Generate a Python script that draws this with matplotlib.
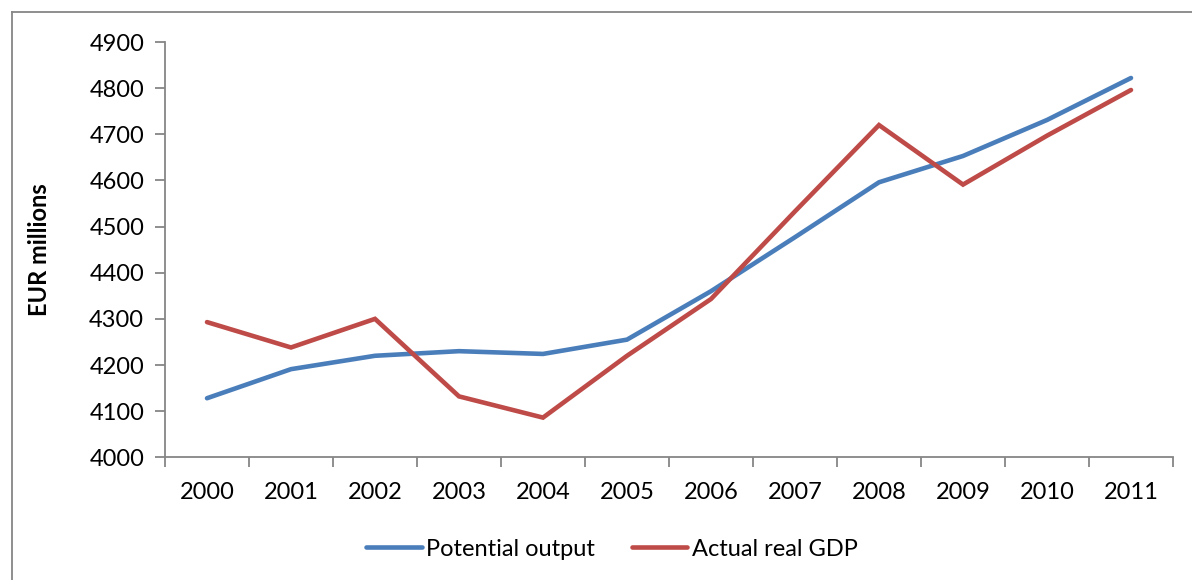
import matplotlib
matplotlib.use("Agg")
import matplotlib.pyplot as plt
from matplotlib.lines import Line2D

years = ["2000", "2001", "2002", "2003", "2004", "2005",
         "2006", "2007", "2008", "2009", "2010", "2011"]
potential_output = [4128, 4191, 4220, 4230, 4224, 4255,
                    4360, 4477, 4596, 4653, 4731, 4822]
actual_real_gdp = [4293, 4238, 4300, 4132, 4086, 4220,
                   4343, 4533, 4720, 4591, 4697, 4796]
y_ticks = [4000, 4100, 4200, 4300, 4400, 4500, 4600, 4700, 4800, 4900]

plt.rcParams['font.family'] = ['Lato', 'DejaVu Sans']

W, H = 1192, 580
fig = plt.figure(figsize=(W / 100, H / 100), dpi=100)
ax = fig.add_axes([165 / W, 1 - 457.3 / H, (1173 - 165) / W, (457.3 - 42) / H])

gray = '#868686'
blue = '#4A7EBB'
red = '#BE4B48'
fs = 17

x = list(range(len(years)))
ax.plot(x, potential_output, color=blue, lw=3.3, solid_capstyle='round',
        solid_joinstyle='miter', label='Potential output')
ax.plot(x, actual_real_gdp, color=red, lw=3.3, solid_capstyle='round',
        solid_joinstyle='miter', label='Actual real GDP')

ax.set_xlim(-0.5, len(years) - 0.5)
ax.set_ylim(y_ticks[0], y_ticks[-1])
ax.set_yticks(y_ticks)
ax.set_yticklabels([str(v) for v in y_ticks])

# category boundaries as major ticks, labels at centres
ax.set_xticks([i - 0.5 for i in range(len(years) + 1)])
ax.set_xticklabels([])
ax.set_xticks(x, minor=True)
ax.set_xticklabels(years, minor=True)
ax.tick_params(axis='x', which='major', length=7, width=1.3, color=gray, direction='out')
ax.tick_params(axis='x', which='minor', length=0, pad=18, labelsize=fs)
ax.tick_params(axis='y', length=7, width=1.3, color=gray, direction='out', pad=8, labelsize=fs)

for s in ['top', 'right']:
    ax.spines[s].set_visible(False)
for s in ['left', 'bottom']:
    ax.spines[s].set_color(gray)
    ax.spines[s].set_linewidth(1.3)

ax.set_ylabel('EUR millions', fontsize=fs, fontweight='bold')
ax.yaxis.set_label_coords(-0.113, 0.5, transform=ax.transAxes)

handles = [Line2D([], [], color=blue, lw=3.3, solid_capstyle='round'),
           Line2D([], [], color=red, lw=3.3, solid_capstyle='round')]
fig.legend(handles, ['Potential output', 'Actual real GDP'],
           loc='center', bbox_to_anchor=(612 / W, 1 - 549 / H),
           ncol=2, frameon=False, fontsize=fs, handlelength=2.35,
           handletextpad=0.2, columnspacing=1.55)

# outer chart border (extends beyond the image on right and bottom)
fig.add_artist(Line2D([12 / W, 1.0], [1 - 12 / H, 1 - 12 / H], color=gray, lw=1.3,
                      transform=fig.transFigure))
fig.add_artist(Line2D([12 / W, 12 / W], [0.0, 1 - 12 / H], color=gray, lw=1.3,
                      transform=fig.transFigure))

fig.savefig('out.png', dpi=100, facecolor='white')
